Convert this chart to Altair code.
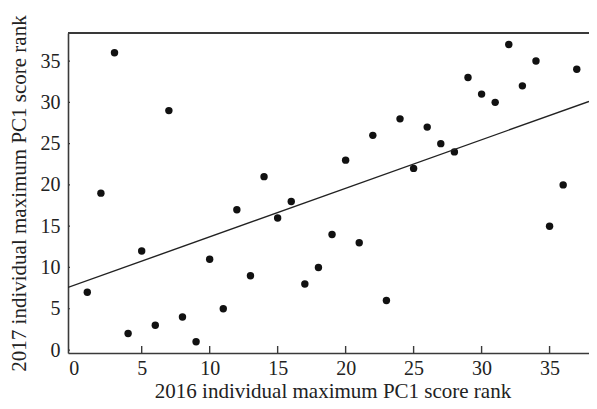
import altair as alt
import pandas as pd

# 2016 rank (x) vs 2017 rank (y)
rank_2016 = list(range(1, 38))
rank_2017 = [7, 19, 36, 2, 12, 3, 29, 4, 1, 11, 5, 17, 9, 21, 16, 18, 8, 10, 14,
             23, 13, 26, 6, 28, 22, 27, 25, 24, 33, 31, 30, 37, 32, 35, 15, 20, 34]
x_ticks = [5, 10, 15, 20, 25, 30, 35]
x_tick_labels = [0, 5, 10, 15, 20, 25, 30, 35]
y_tick_labels = [0, 5, 10, 15, 20, 25, 30, 35]

df = pd.DataFrame({"x": rank_2016, "y": rank_2017})
ticks_df = pd.DataFrame({"t": x_ticks})
yticks_df = pd.DataFrame({"t": y_tick_labels})

W, H = 521, 320
XDOM = [-0.42, 37.9]
YDOM = [-0.36, 38.4]
FONT = "Liberation Serif"
AX = "#3a3a3a"

xs = alt.Scale(domain=XDOM, nice=False, zero=False)
ys = alt.Scale(domain=YDOM, nice=False, zero=False)

x_axis = alt.Axis(values=x_tick_labels, ticks=False, grid=False, domainColor=AX,
                  domainWidth=1.6, labelFont=FONT, labelFontSize=20, labelColor="#222",
                  labelPadding=5, labelBaseline="top", labelFlush=False,
                  title="2016 individual maximum PC1 score rank", titleFont=FONT,
                  titleFontSize=21, titleFontWeight="normal", titleColor="#222",
                  titleBaseline="alphabetic", titleY=44, titleX=(597 - 68) / 2)
y_axis = alt.Axis(values=y_tick_labels, ticks=False, grid=False, domainColor=AX,
                  domainWidth=1.6, labelFont=FONT, labelFontSize=20, labelColor="#222",
                  labelPadding=8, labelFlush=False,
                  title="2017 individual maximum PC1 score rank", titleFont=FONT,
                  titleFontSize=21, titleFontWeight="normal", titleColor="#222",
                  titleAngle=270, titleBaseline="alphabetic", titleAlign="center",
                  titleX=-43, titleY=H / 2)

base = alt.Chart(df)

points = base.mark_circle(size=55, color="#111", opacity=1).encode(
    x=alt.X("x:Q", scale=xs, axis=x_axis),
    y=alt.Y("y:Q", scale=ys, axis=y_axis),
)

reg = base.transform_regression("x", "y", extent=XDOM).mark_line(
    color="#222", strokeWidth=1.4, clip=True
).encode(x=alt.X("x:Q", scale=xs), y=alt.Y("y:Q", scale=ys))

tick_marks = alt.Chart(ticks_df).mark_rule(color=AX, strokeWidth=1.4).encode(
    x=alt.X("t:Q", scale=xs),
    y=alt.value(H),
    y2=alt.value(H - 7),
)

ytick_marks = alt.Chart(yticks_df).mark_rule(color=AX, strokeWidth=1.2).encode(
    y=alt.Y("t:Q", scale=ys),
    x=alt.value(0),
    x2=alt.value(2),
)

top_line = alt.Chart(ticks_df).mark_rule(color=AX, strokeWidth=1.6).encode(
    x=alt.value(0), x2=alt.value(W), y=alt.value(0)
)

chart = alt.layer(points, reg, tick_marks, ytick_marks, top_line).properties(
    width=W, height=H,
    autosize=alt.AutoSizeParams(type="none"),
    padding={"left": 60, "top": 25, "right": 0, "bottom": 48},
).configure_view(stroke=None).configure_axis(
    labelFont=FONT, titleFont=FONT
).configure(font=FONT)

chart.save("out.html", embed_options={"renderer": "svg", "actions": False})
